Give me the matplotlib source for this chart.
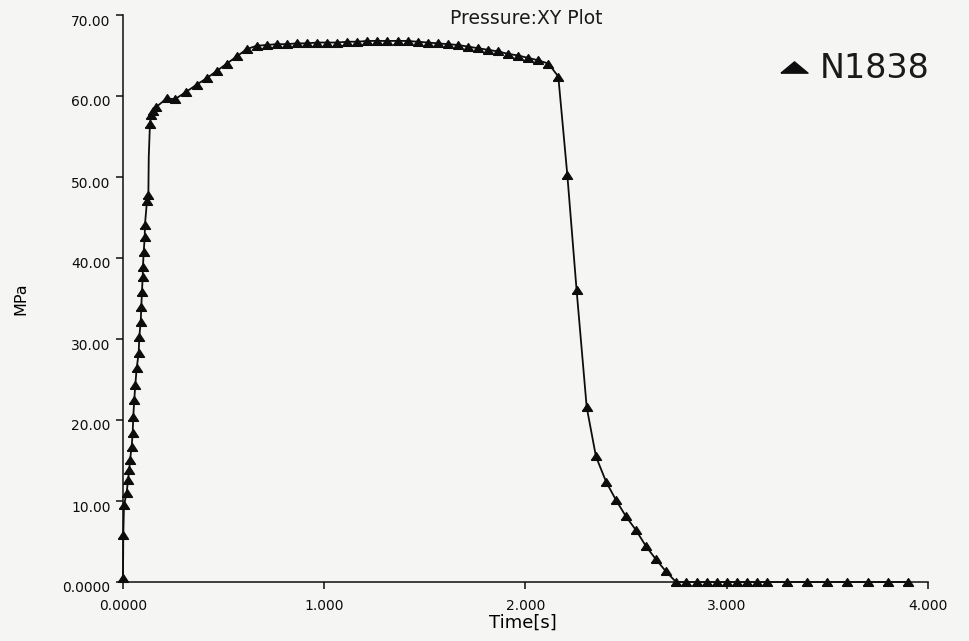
import matplotlib
matplotlib.use("Agg")
import matplotlib.pyplot as plt
from matplotlib.lines import Line2D
from matplotlib.transforms import ScaledTranslation
import numpy as np

plt.rcParams["font.family"] = "DejaVu Sans"
plt.rcParams["text.color"] = "#1a1a1a"

# Pressure history at node N1838 (time in s, pressure in MPa)
time_s = [
    0.000, 0.0015, 0.005, 0.018, 0.025, 0.031, 0.035, 0.043, 0.048, 0.051,
    0.056, 0.061, 0.068, 0.078, 0.081, 0.088, 0.091, 0.094, 0.098, 0.099,
    0.103, 0.108, 0.109, 0.119, 0.126, 0.128, 0.134, 0.140, 0.150, 0.163,
    0.217, 0.258, 0.313, 0.366, 0.416, 0.466, 0.516, 0.566, 0.616,
    0.664, 0.714, 0.764, 0.814, 0.864, 0.914, 0.964, 1.014, 1.064, 1.114,
    1.164, 1.214, 1.264, 1.314, 1.364, 1.414, 1.464, 1.514, 1.564, 1.614,
    1.664, 1.714, 1.764, 1.814, 1.864, 1.914, 1.964, 2.014, 2.064, 2.114,
    2.163, 2.208, 2.254, 2.304, 2.350, 2.400, 2.450, 2.499, 2.549, 2.599,
    2.648, 2.698, 2.748, 2.800, 2.850, 2.900, 2.950, 3.000, 3.050, 3.100,
    3.150, 3.200, 3.300, 3.400, 3.500, 3.600, 3.700, 3.800, 3.900,
]
pressure_mpa = [
    0.5, 5.8, 9.5, 11.0, 12.6, 13.8, 15.1, 16.7, 18.4, 20.4,
    22.5, 24.3, 26.4, 28.3, 30.3, 32.1, 34.0, 35.8, 37.7, 38.9,
    40.8, 42.6, 44.1, 47.0, 47.8, 52.5, 56.6, 57.6, 58.2, 58.6,
    59.7, 59.6, 60.5, 61.4, 62.2, 63.1, 64.0, 64.9, 65.8,
    66.2, 66.3, 66.4, 66.4, 66.5, 66.5, 66.6, 66.6, 66.6, 66.7,
    66.7, 66.8, 66.8, 66.8, 66.8, 66.8, 66.7, 66.6, 66.5, 66.4,
    66.3, 66.1, 65.9, 65.7, 65.5, 65.2, 65.0, 64.7, 64.4, 64.0,
    62.4, 50.2, 36.0, 21.6, 15.5, 12.4, 10.1, 8.1, 6.4, 4.4,
    2.8, 1.3, 0.0, 0.0, 0.0, 0.0, 0.0, 0.0, 0.0, 0.0,
    0.0, 0.0, 0.0, 0.0, 0.0, 0.0, 0.0, 0.0, 0.0,
]
# sample on the curve that carries no symbol
unmarked = [25]

y_ticks = [0, 10, 20, 30, 40, 50, 60, 70]
y_labels = ["0.0000", "10.00", "20.00", "30.00", "40.00", "50.00", "60.00", "70.00"]
x_ticks = [0, 1, 2, 3, 4]
x_labels = ["0.0000", "1.000", "2.000", "3.000", "4.000"]

bg = "#f5f5f3"
ink = "#0d0d0d"

# flattened triangles for the curve and the legend key
tri = [(-1.3, -1.0), (1.3, -1.0), (0.0, 1.0), (-1.3, -1.0)]
tri_key = [(-1.2, -0.5), (1.2, -0.5), (0.0, 0.5), (-1.2, -0.5)]

fig = plt.figure(figsize=(9.7, 6.41), dpi=100, facecolor=bg)
ax = fig.add_axes([123 / 970, 1 - 582 / 641, 805 / 970, 567 / 641])
ax.set_facecolor(bg)

marks = [i for i in range(len(time_s)) if i not in unmarked]
ax.plot(time_s, pressure_mpa, color=ink, lw=1.3, marker=tri, ms=7.2,
        markevery=marks, mfc=ink, mec=ink, clip_on=False, zorder=3)

ax.set_xlim(0, 4)
ax.set_ylim(0, 70)
for side in ("top", "right"):
    ax.spines[side].set_visible(False)
for side in ("left", "bottom"):
    ax.spines[side].set_linewidth(1.1)
    ax.spines[side].set_color(ink)

ax.set_yticks(y_ticks)
ax.set_yticklabels(y_labels)
ax.set_xticks(x_ticks)
ax.set_xticklabels(x_labels)
ax.tick_params(axis="both", direction="out", length=5, width=1.1,
               colors=ink, labelsize=10)
ax.tick_params(axis="y", pad=4)
ax.tick_params(axis="x", pad=7)

# y labels sit slightly below their ticks
shift = ScaledTranslation(0, -5 / 100, fig.dpi_scale_trans)
for lab in ax.get_yticklabels():
    lab.set_transform(lab.get_transform() + shift)

ax.set_xlabel("Time[s]", fontsize=13, va="top")
ax.xaxis.set_label_coords(0.497, -0.056)
ax.set_ylabel("MPa", fontsize=11.5, va="center")
ax.yaxis.set_label_coords(-0.127, 0.50)

fig.text(526 / 970, 1 - 24.5 / 641, "Pressure:XY Plot", ha="center",
         va="baseline", fontsize=13.5)

key = Line2D([], [], ls="none", marker=tri_key, ms=19.5, color=ink)
ax.legend([key], ["N1838"], loc="center left", frameon=False,
          bbox_to_anchor=(778 / 970, 1 - 69 / 641),
          bbox_transform=fig.transFigure, fontsize=24, borderpad=0,
          handlelength=0.95, handletextpad=0.3, borderaxespad=0)

fig.savefig("out.png", dpi=100, facecolor=bg)
